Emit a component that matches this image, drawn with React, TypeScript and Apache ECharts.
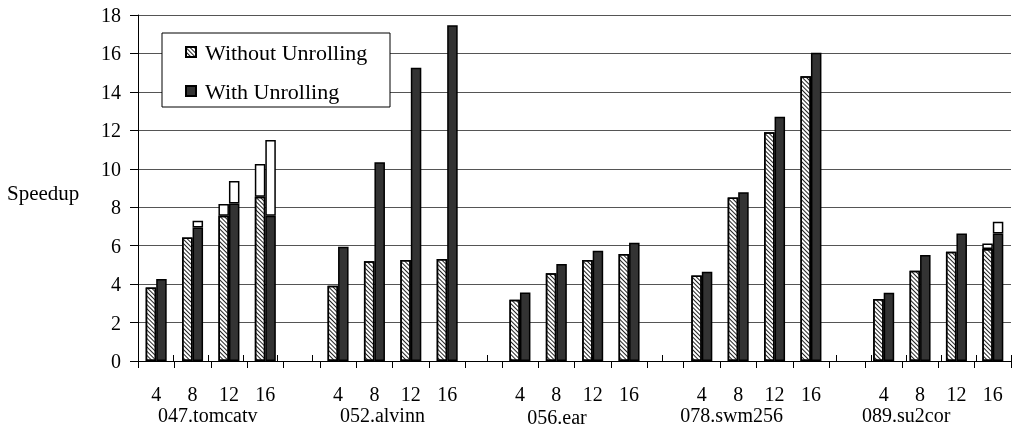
import React, { useEffect, useRef } from "react";
import * as echarts from "echarts";

const groups = ["047.tomcatv", "052.alvinn", "056.ear", "078.swm256", "089.su2cor"];
const procs = ["4", "8", "12", "16"];
const yTicks = { min: 0, max: 18, interval: 2 };

// flat: 5 groups x 4 processor counts
const withoutUnrolling = [3.82, 6.42, 7.55, 8.55, 3.91, 5.19, 5.26, 5.3, 3.18, 4.57, 5.25, 5.56, 4.45, 8.5, 11.9, 14.82, 3.22, 4.69, 5.68, 5.83];
const withoutUnrollingTop = [null, null, 8.17, 10.25, null, null, null, null, null, null, null, null, null, null, null, null, null, null, null, 6.11];
const withUnrolling = [4.27, 6.94, 8.19, 7.56, 5.95, 10.34, 15.25, 17.47, 3.56, 5.04, 5.73, 6.15, 4.64, 8.78, 12.71, 16.03, 3.55, 5.51, 6.63, 6.63];
const withUnrollingTop = [null, 7.3, 9.37, 11.5, null, null, null, null, null, null, null, null, null, null, null, null, null, null, null, 7.24];

const FONT = "Liberation Serif";

function buildCategories(): string[] {
  const out: string[] = [];
  groups.forEach((_, g) => {
    procs.forEach((p) => out.push(p));
    if (g < groups.length - 1) out.push(" ");
  });
  return out;
}

function expand(vals: (number | null)[]): (number | string)[] {
  const out: (number | string)[] = [];
  groups.forEach((_, g) => {
    for (let i = 0; i < procs.length; i++) {
      const v = vals[g * procs.length + i];
      out.push(v == null ? "-" : v);
    }
    if (g < groups.length - 1) out.push("-");
  });
  return out;
}

function diff(tops: (number | null)[], base: number[]): (number | null)[] {
  return tops.map((t, i) => (t == null ? null : +(t - base[i]).toFixed(3)));
}

function groupAxisCategories(): string[] {
  const n = groups.length * (procs.length + 1);
  const out: string[] = [];
  for (let i = 0; i < n; i++) {
    const k = i - 2;
    out.push(k >= 0 && k % 5 === 0 ? groups[k / 5] : "");
  }
  return out;
}

export default function App() {
  const ref = useRef<HTMLDivElement>(null);
  useEffect(() => {
    if (!ref.current) return;
    const chart = echarts.init(ref.current, undefined, { renderer: "svg" });
    const cats = buildCategories();
    const border = { borderColor: "#000", borderWidth: 1.5 };
    const hatch = {
      symbol: "rect",
      symbolSize: 1,
      dashArrayX: [1, 0],
      dashArrayY: [1, 2],
      rotation: Math.PI / 4,
      color: "#222",
      backgroundColor: "#fff",
    };
    chart.setOption({
      animation: false,
      grid: { left: 138, top: 15, bottom: 70, right: -4, containLabel: false },
      legend: {
        data: [
          { name: "Without Unrolling", icon: "rect" },
          { name: "With Unrolling", icon: "rect" },
        ],
        orient: "vertical",
        left: 185,
        top: 41,
        padding: 0,
        itemWidth: 10,
        itemHeight: 10,
        itemGap: 17,
        selectedMode: false,
        z: 10,
        textStyle: { fontSize: 22, fontFamily: FONT, color: "#000", padding: [0, 0, 0, 4] },
      },
      graphic: [
        {
          type: "rect",
          z: 8,
          shape: { x: 162, y: 33, width: 228, height: 74 },
          style: { fill: "#fff", stroke: "#000", lineWidth: 1 },
        },
        {
          type: "text",
          z: 8,
          x: 7,
          y: 193,
          style: { text: "Speedup", font: `21px "${FONT}"`, fill: "#000", align: "left", verticalAlign: "middle" },
        },
      ],
      xAxis: [
        {
          type: "category",
          data: cats,
          position: "bottom",
          axisLine: { lineStyle: { color: "#000", width: 1 } },
          axisTick: { show: true, interval: 0, length: 7, lineStyle: { color: "#000" } },
          axisLabel: { interval: 0, margin: 25, lineHeight: 16, fontSize: 20, fontFamily: FONT, color: "#000" },
          splitLine: { show: false },
        },
        {
          type: "category",
          data: groupAxisCategories().concat([""]),
          boundaryGap: false,
          position: "bottom",
          axisLine: { show: false },
          axisTick: { show: true, inside: true, interval: 0, length: 6, lineStyle: { color: "#000" } },
          axisLabel: {
            interval: 0,
            margin: 46,
            lineHeight: 16,
            fontSize: 20,
            fontFamily: FONT,
            color: "#000",
            formatter: (v: string) => (v === "056.ear" ? "{low|" + v + "}" : v),
            rich: { low: { fontSize: 20, fontFamily: FONT, color: "#000", lineHeight: 16, padding: [4, 0, 0, 0] } },
          },
          splitLine: { show: false },
        },
      ],
      yAxis: {
        type: "value",
        min: yTicks.min,
        max: yTicks.max,
        interval: yTicks.interval,
        axisLine: { show: true, lineStyle: { color: "#000" } },
        axisTick: { show: true, length: 8, lineStyle: { color: "#000" } },
        axisLabel: { margin: 17, fontSize: 20, fontFamily: FONT, color: "#000" },
        splitLine: { show: true, lineStyle: { color: "#555", width: 1 } },
      },
      series: [
        {
          name: "Without Unrolling",
          type: "bar",
          stack: "a",
          xAxisIndex: 0,
          barWidth: 10.5,
          barGap: "0%",
          data: expand(withoutUnrolling),
          itemStyle: { color: "#fff", ...border, decal: hatch },
        },
        {
          name: "Without extra",
          type: "bar",
          stack: "a",
          xAxisIndex: 0,
          barWidth: 10.5,
          barGap: "0%",
          data: expand(diff(withoutUnrollingTop, withoutUnrolling)),
          itemStyle: { color: "#fff", ...border },
        },
        {
          name: "With Unrolling",
          type: "bar",
          stack: "b",
          xAxisIndex: 0,
          barWidth: 10.5,
          barGap: "0%",
          data: expand(withUnrolling),
          itemStyle: { color: "#333333", ...border },
        },
        {
          name: "With extra",
          type: "bar",
          stack: "b",
          xAxisIndex: 0,
          barWidth: 10.5,
          barGap: "0%",
          data: expand(diff(withUnrollingTop, withUnrolling)),
          itemStyle: { color: "#fff", ...border },
        },
      ],
    });
    return () => chart.dispose();
  }, []);
  return <div ref={ref} style={{ position: "fixed", left: 0, top: 0, width: 1014, height: 431 }} />;
}
